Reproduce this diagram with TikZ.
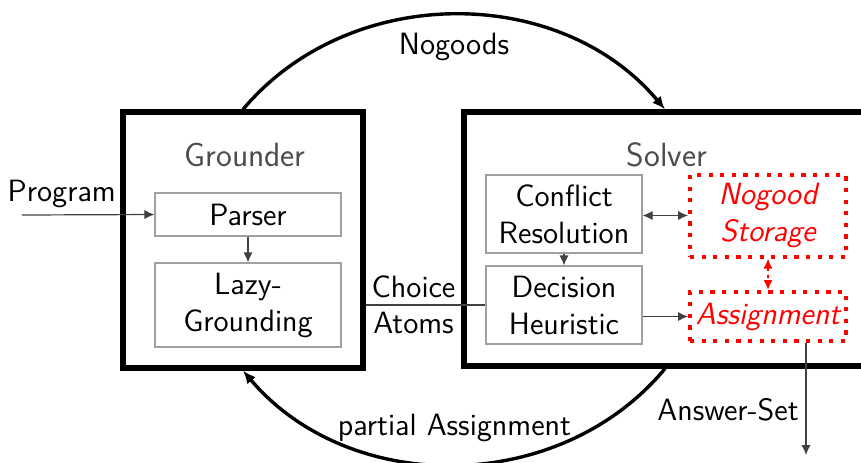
\documentclass[tikz,border=0pt]{standalone}
\usepackage{xcolor}
\usepackage{tikz}
\usetikzlibrary{arrows.meta,positioning}
\definecolor{boxgray}{HTML}{A0A0A0}
\definecolor{flowgray}{HTML}{404040}
\definecolor{titlegray}{HTML}{4D4D4D}
\definecolor{storered}{HTML}{FF0000}

\begin{document}
\begin{tikzpicture}[
    x=0.5pt, y=-0.5pt, font=\sffamily\fontsize{15.4pt}{18.5pt}\selectfont,
    module/.style={draw=black, line width=2.6pt, inner sep=0pt},
    title/.style={text=titlegray, font=\sffamily\fontsize{16.8pt}{20pt}\selectfont},
    part/.style={draw=boxgray, line width=0.6pt, minimum width=78pt, minimum height=39pt, align=center, inner sep=0pt},
    store/.style={draw=storered, text=storered, line width=2pt, dash pattern=on 2.1pt off 3.7pt, minimum width=78pt, align=center, inner sep=0pt, font=\sffamily\fontsize{15.4pt}{18.5pt}\selectfont\itshape},
    flow/.style={-{Latex[length=5pt,width=4.6pt]}, draw=flowgray, line width=0.6pt},
    loop/.style={-{Latex[length=6.5pt,width=5.5pt]}, line width=1.7pt}
]
\path[use as bounding box, clip] (0,0) rectangle (861,462);

% the two modules
\node[module, minimum width=120pt, minimum height=128pt] (grounder) at (243,240) {};
\node[module, minimum width=201pt, minimum height=127pt] (solver) at (665,239) {};
\node[title] (gtitle) at (245,155) {Grounder};
\node[title] (stitle) at (667,155) {Solver};

% grounder parts
\node[part, minimum width=93pt, minimum height=21.5pt] (parser) at (248,214.5) {Parser};
\node[part, minimum width=93pt, minimum height=42pt] (lazy) at (248,305) {Lazy-\\Grounding};

% solver parts
\node[part] (conflict) at (564,214) {Conflict\\Resolution};
\node[part] (decision) at (564,305) {Decision\\Heuristic};
\node[store, minimum height=41pt] (nogood) at (768,215.5) {Nogood\\Storage};
\node[store, minimum height=24.5pt] (assign) at (768,316.5) {Assignment};

\coordinate (program) at (22,215);
\coordinate (answer) at (806,455);

\draw[flow] (program) -- node[pos=0.3, above, text=black] {Program} (parser.west);
\draw[flow] (parser) -- (lazy);
\draw[flow] (conflict) -- (decision);
\draw[flow, {Latex[length=5pt,width=4.6pt]}-{Latex[length=5pt,width=4.6pt]}] (conflict.east |- nogood) -- (nogood.west);
\draw[flow] (decision.east |- assign) -- (assign.west);
\draw[{Latex[length=5pt,width=4.6pt]}-{Latex[length=5pt,width=4.6pt]}, draw=storered, fill=storered, line width=0.9pt, dash pattern=on 1.5pt off 2pt] (nogood) -- (assign);
\draw[flow, -] (grounder.east |- decision) -- node[pos=0.4, above, text=black] {Choice} node[pos=0.4, below, text=black] {Atoms} (decision.west);
\draw[flow] (assign.south -| answer) -- node[pos=0.6, left, text=black] {Answer-Set} (answer);

% feedback between the modules
\draw[loop] (grounder.north) to[bend left=50] node[midway, below=5pt] {Nogoods} (solver.north);
\draw[loop] (solver.south) to[bend left=50] node[midway, above=7pt] {partial Assignment} (grounder.south);
\end{tikzpicture}
\end{document}
